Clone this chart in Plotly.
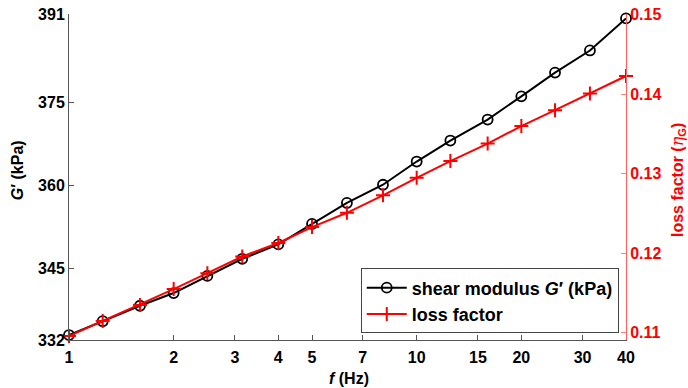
import plotly.graph_objects as go

freq = [1, 1.25, 1.6, 2, 2.5, 3.15, 4, 5, 6.3, 8, 10, 12.5, 16, 20, 25, 31.5, 40]
shear_modulus = [332.9, 335.4, 338.2, 340.5, 343.6, 346.7, 349.3, 353.0, 356.8, 360.1,
                 364.3, 368.1, 371.9, 376.1, 380.4, 384.4, 390.2]
loss_factor = [0.1096, 0.1115, 0.1135, 0.1155, 0.1175, 0.1196, 0.1213, 0.1233, 0.1251,
               0.1273, 0.1295, 0.1316, 0.1338, 0.1360, 0.1380, 0.1401, 0.1423]
x_ticks = [1, 2, 3, 4, 5, 7, 10, 15, 20, 30, 40]
g_ticks = [332, 345, 360, 375, 391]
eta_ticks = [0.11, 0.12, 0.13, 0.14, 0.15]

FONT = "Liberation Sans, Arial, sans-serif"
RED = "#ff0000"

fig = go.Figure()
fig.add_trace(go.Scatter(
    x=freq, y=shear_modulus, name="shear modulus <i>G</i>′ (kPa)",
    mode="lines+markers", line=dict(color="black", width=2),
    marker=dict(symbol="circle-open", size=10, color="black", line=dict(width=1.8)),
    cliponaxis=False, yaxis="y"))
fig.add_trace(go.Scatter(
    x=freq, y=loss_factor, name="loss factor",
    mode="lines+markers", line=dict(color=RED, width=2),
    marker=dict(symbol="cross-thin", size=10, color=RED, line=dict(width=2, color=RED)),
    cliponaxis=False, yaxis="y2"))

tickfont = dict(family=FONT, size=16, color="black", weight="bold")
fig.update_layout(
    width=688, height=388,
    margin=dict(l=69, r=62, t=14, b=48, autoexpand=False),
    paper_bgcolor="white", plot_bgcolor="white",
    font=dict(family=FONT, size=16, color="black"),
    showlegend=True,
    legend=dict(x=0.987, y=0.02, xanchor="right", yanchor="bottom",
                bgcolor="white", bordercolor="#444", borderwidth=1,
                font=dict(family=FONT, size=18, color="black", weight="bold"),
                tracegroupgap=0, itemwidth=40),
    xaxis=dict(type="log", range=[0, 1.60206], tickvals=x_ticks,
               ticktext=[str(v) for v in x_ticks], tickfont=tickfont, automargin=False,
               ticklabelstandoff=3,
               showgrid=False, zeroline=False, showline=True, linecolor="#555",
               linewidth=1, ticks="inside", ticklen=5, tickcolor="#555"),
    yaxis=dict(range=[332, 391], tickvals=g_ticks, ticktext=[str(v) for v in g_ticks],
               tickfont=tickfont, showgrid=False, zeroline=False, showline=True,
               automargin=False,
               linecolor="#555", linewidth=1, ticks="inside", ticklen=5, tickcolor="#555"),
    yaxis2=dict(range=[0.1091, 0.1501], tickvals=eta_ticks,
                ticktext=["%.2f" % v for v in eta_ticks], overlaying="y", side="right",
                tickfont=dict(family=FONT, size=16, color=RED, weight="bold"),
                automargin=False,
                showgrid=False, zeroline=False, showline=True, linecolor="#ff6060",
                linewidth=1, ticks="inside", ticklen=5, tickcolor="#ff8080"),
)

fig.add_annotation(
    xref="paper", yref="paper", x=0.503, y=-0.117, xanchor="center", yanchor="middle",
    text="<i>f</i> (Hz)", showarrow=False,
    font=dict(family=FONT, size=16, color="black", weight="bold"))
fig.add_annotation(
    xref="paper", yref="paper", x=-0.092, y=0.52, xanchor="center", yanchor="middle",
    text="<i>G</i>′ (kPa)", textangle=-90, showarrow=False,
    font=dict(family=FONT, size=16, color="black", weight="bold"))
fig.add_annotation(
    xref="paper", yref="paper", x=1.093, y=0.49, xanchor="center", yanchor="middle",
    text="loss factor (<span style='font-family:DejaVu Serif;font-weight:normal'><i>η</i></span><sub>G</sub>)",
    textangle=-90, showarrow=False,
    font=dict(family=FONT, size=16, color=RED, weight="bold"))

fig.write_html("out.html", config={"displayModeBar": False},
               post_script="document.body.style.margin='0';")
